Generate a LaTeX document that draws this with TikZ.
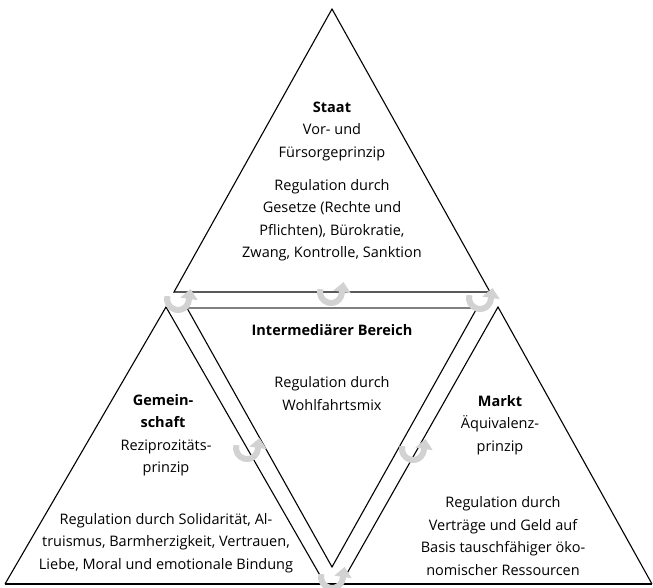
\documentclass[tikz,border=0pt]{standalone}
\usepackage{fontspec}
\setmainfont{Open Sans}
\usetikzlibrary{arrows.meta}
\definecolor{cycgray}{HTML}{D2D2D2}
\definecolor{midgray}{HTML}{808080}
\begin{document}
\begin{tikzpicture}[x=1pt,y=-1pt,
  tri/.style={draw=black,line width=1.1pt,line join=miter},
  midtop/.style={draw=midgray,line width=2pt},
  lbl/.style={align=center,font=\fontsize{14.5}{22.5}\selectfont,inner sep=0pt},
  cyc/.style={draw=cycgray,line width=6pt,-{Triangle[length=10pt,width=17pt]}},
  cycarrow/.pic={\draw[cyc] (195:11) arc[start angle=195,end angle=0,radius=11] -- ++(1.5,-10);}
]
\useasboundingbox (0,0) rectangle (653,588);
% vertices
\coordinate (tA) at (332,9);   \coordinate (tL) at (174,292); \coordinate (tR) at (490,292);
\coordinate (lA) at (166,307); \coordinate (lL) at (5,584);   \coordinate (lR) at (325,584);
\coordinate (rA) at (498,307); \coordinate (rL) at (341,584); \coordinate (rR) at (652,584);
\coordinate (mL) at (187,308); \coordinate (mR) at (477,308); \coordinate (mB) at (332,567);
% triangles
\draw[tri] (tL) -- (tA) -- (tR) -- cycle;
\draw[tri] (lL) -- (lA) -- (lR);
\draw[tri] (rL) -- (rA) -- (rR);
\draw[tri] (lL) -- (rR);
\draw[tri] (mL) -- (mB) -- (mR);
\draw[midtop] (mL) -- (mR);
% cyclic arrows
\pic at (178,299) {cycarrow};
\pic at (331,292) {cycarrow};
\pic at (480,298) {cycarrow};
\pic at (247,448) {cycarrow};
\pic at (413,449) {cycarrow};
\pic at (332,577) {cycarrow};
% texts
\node[lbl] (staat) at (332,131) {\textbf{Staat}\\Vor- und\\Fürsorgeprinzip};
\node[lbl] (staatreg) at (332,220) {Regulation durch\\Gesetze (Rechte und\\Pflichten), Bürokratie,\\Zwang, Kontrolle, Sanktion};
\node[lbl] (inter) at (332,330) {\textbf{Intermediärer Bereich}};
\node[lbl] (interreg) at (332,393.5) {Regulation durch\\Wohlfahrtsmix};
\node[lbl] (gem) at (163,411) {\textbf{Gemein-}\\\textbf{schaft}};
\node[lbl] (rezi) at (166,458) {Reziprozitäts-\\prinzip};
\node[lbl] (markt) at (500,425) {\textbf{Markt}\\Äquivalenz-\\prinzip};
\node[lbl] (gemreg) at (166,543) {Regulation durch Solidarität, Al-\\truismus, Barmherzigkeit, Vertrauen,\\Liebe, Moral und emotionale Bindung};
\node[lbl] (marktreg) at (503,536) {Regulation durch\\Verträge und Geld auf\\Basis tauschfähiger öko-\\nomischer Ressourcen};
\end{tikzpicture}
\end{document}
